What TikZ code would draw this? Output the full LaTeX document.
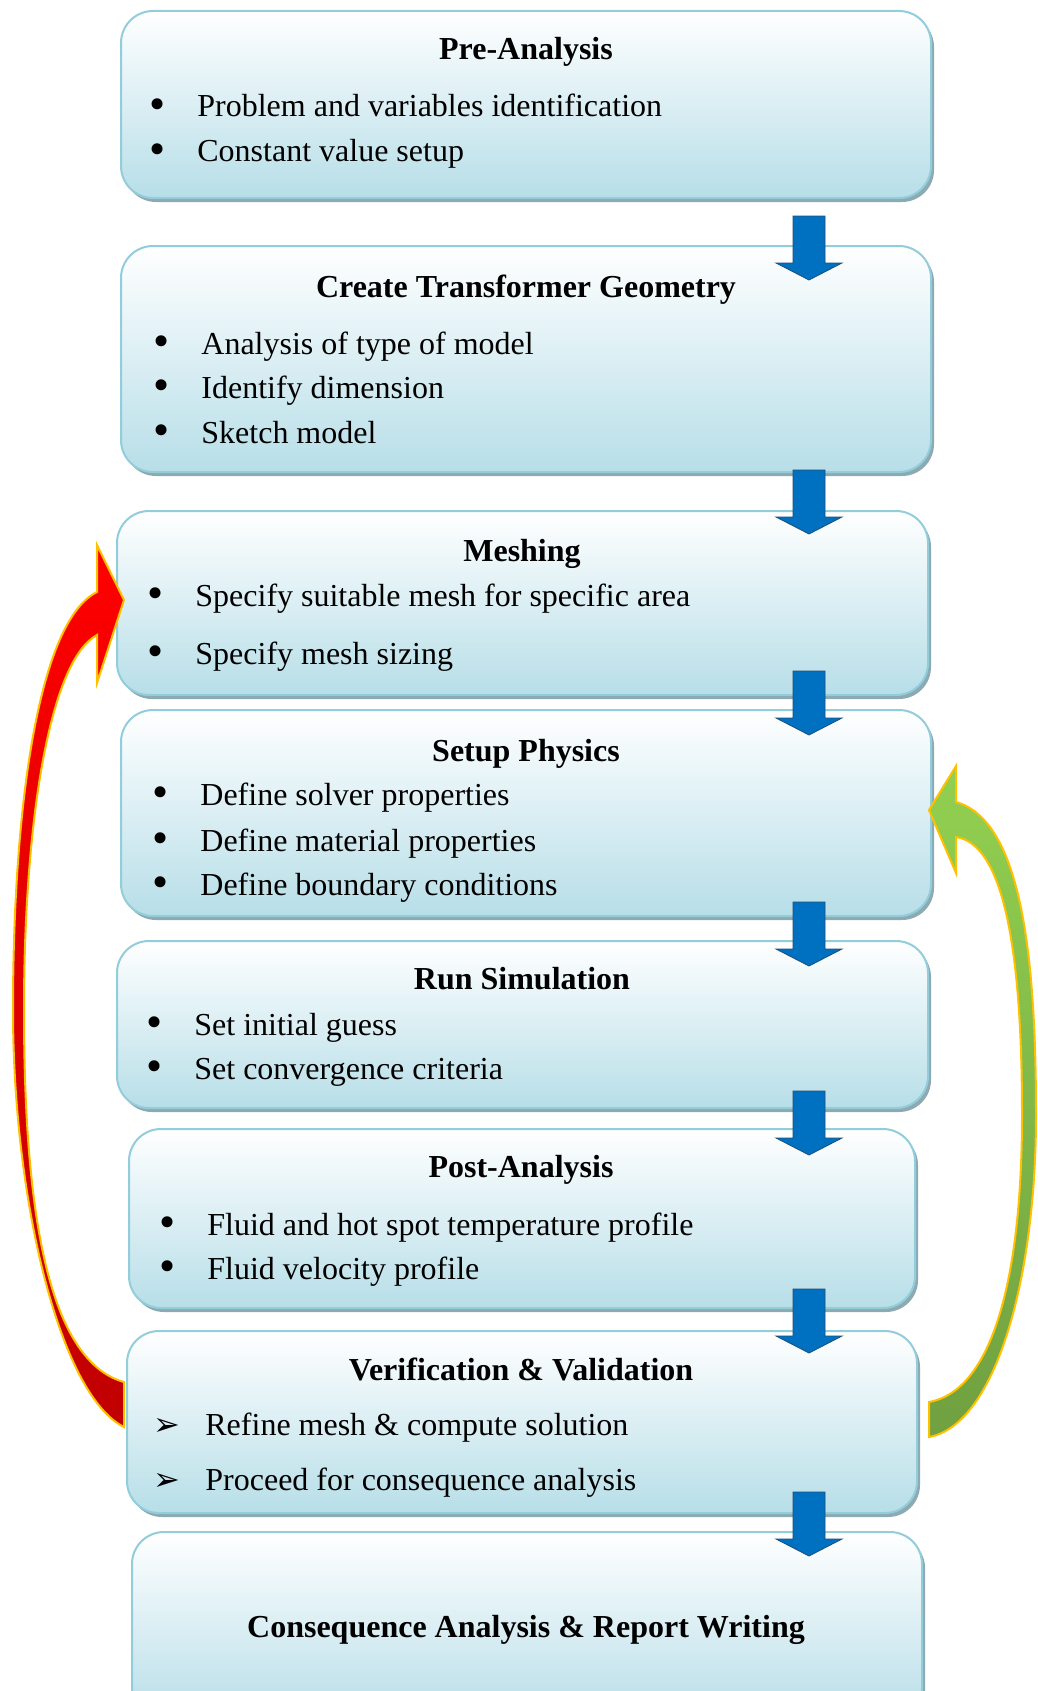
\documentclass[tikz,border=0pt]{standalone}
\usepackage{fontspec}
\setmainfont{Liberation Serif}
\newfontfamily\symfont{DejaVu Sans}
\usetikzlibrary{fit,shadows}
\definecolor{boxblue}{HTML}{B7DEE8}
\definecolor{boxedge}{HTML}{92CDDC}
\definecolor{boxshadow}{HTML}{8DA9B1}
\definecolor{flowblue}{HTML}{0070C0}
\definecolor{flowedge}{HTML}{1F4E79}
\definecolor{loopedge}{HTML}{FFC000}
\definecolor{redtop}{HTML}{FF0000}
\definecolor{redbot}{HTML}{C00000}
\definecolor{greentop}{HTML}{92D050}
\definecolor{greenbot}{HTML}{70A040}
\newcommand{\flowsize}{\fontsize{16pt}{19pt}\selectfont}
\newcommand{\bitem}{\llap{\raisebox{-1.2pt}{\fontsize{23pt}{23pt}\selectfont\textbullet}\hspace{16pt}}}
\newcommand{\aitem}{\llap{{\symfont\fontsize{16pt}{18pt}\selectfont ➢}\hspace{12.6pt}}}
\tikzset{
  phase/.style={draw=boxedge, line width=1pt, rounded corners=16pt,
    top color=white, bottom color=boxblue, inner sep=0pt,
    drop shadow={shadow xshift=1.5pt, shadow yshift=-2pt, fill=boxshadow, opacity=1}},
  title/.style={font=\flowsize\bfseries, anchor=base},
  item/.style={font=\flowsize, anchor=base west, inner sep=0pt},
  flowarrow/.style={fill=flowblue, draw=flowedge, line width=0.4pt},
  redloop/.style={draw=loopedge, line width=1pt, top color=redtop, bottom color=redbot},
  greenloop/.style={draw=loopedge, line width=1pt, top color=greentop, bottom color=greenbot}
}
\begin{document}
\begin{tikzpicture}[x=0.5pt,y=-0.5pt]
    \useasboundingbox (0,0) rectangle (1038,1691);
    \node[phase, fit={(121,11) (931,198)}] (pre) {};
    \node[phase, fit={(121,246) (931,472)}] (geom) {};
    \node[phase, fit={(117,511) (928,695)}] (mesh) {};
    \node[phase, fit={(121,710) (931,916)}] (phys) {};
    \node[phase, fit={(117,941) (928,1108)}] (run) {};
    \node[phase, fit={(129,1129) (915,1308)}] (post) {};
    \node[phase, fit={(127,1331) (917,1513)}] (verif) {};
    \node[phase, fit={(132,1532) (922,1720)}] (report) {};
    \foreach \y [count=\i] in {216,470,671,902,1091,1289,1492}
      \draw[flowarrow] (809,\y) coordinate (down\i) ++(-16,0) -- ++(32,0) -- ++(0,47) -- ++(17,0)
        -- ++(-33,17) -- ++(-33,-17) -- ++(17,0) -- cycle;
    \draw[redloop] (124,1427) .. controls (60,1395) and (13,1200) .. (13,1010)
      .. controls (13,800) and (40,620) .. (97,592) -- (97,545) -- (124,600) -- (97,683) -- (97,635)
      .. controls (50,660) and (24,820) .. (24,1010) .. controls (24,1200) and (45,1360) .. (124,1382) -- cycle;
    \draw[greenloop] (929,1437) .. controls (995,1425) and (1036,1280) .. (1036,1115)
      .. controls (1036,950) and (1020,820) .. (956,802) -- (956,766) -- (929,810) -- (956,873) -- (956,837)
      .. controls (1010,845) and (1022,980) .. (1022,1115) .. controls (1022,1270) and (995,1390) .. (929,1402) -- cycle;
    \node[title] (preT) at (526,60) {Pre-Analysis};
    \node[item] (pre1) at (197,117) {\bitem Problem and variables identification};
    \node[item] (pre2) at (197,162) {\bitem Constant value setup};
    \node[title] (geomT) at (526,297) {Create Transformer Geometry};
    \node[item] (geom1) at (201,354) {\bitem Analysis of type of model};
    \node[item] (geom2) at (201,398) {\bitem Identify dimension};
    \node[item] (geom3) at (201,443) {\bitem Sketch model};
    \node[title] (meshT) at (522,561) {Meshing};
    \node[item] (mesh1) at (195,606) {\bitem Specify suitable mesh for specific area};
    \node[item] (mesh2) at (195,664) {\bitem Specify mesh sizing};
    \node[title] (physT) at (526,761) {Setup Physics};
    \node[item] (phys1) at (200,805) {\bitem Define solver properties};
    \node[item] (phys2) at (200,851) {\bitem Define material properties};
    \node[item] (phys3) at (200,895) {\bitem Define boundary conditions};
    \node[title] (runT) at (522,989) {Run Simulation};
    \node[item] (run1) at (194,1035) {\bitem Set initial guess};
    \node[item] (run2) at (194,1079) {\bitem Set convergence criteria};
    \node[title] (postT) at (521,1177) {Post-Analysis};
    \node[item] (post1) at (207,1235) {\bitem Fluid and hot spot temperature profile};
    \node[item] (post2) at (207,1279) {\bitem Fluid velocity profile};
    \node[title] (verifT) at (521,1380) {Verification \& Validation};
    \node[item] (verif1) at (205,1435) {\aitem Refine mesh \& compute solution};
    \node[item] (verif2) at (205,1490) {\aitem Proceed for consequence analysis};
    \node[title] (reportT) at (526,1637) {Consequence Analysis \& Report Writing};
\end{tikzpicture}
\end{document}
